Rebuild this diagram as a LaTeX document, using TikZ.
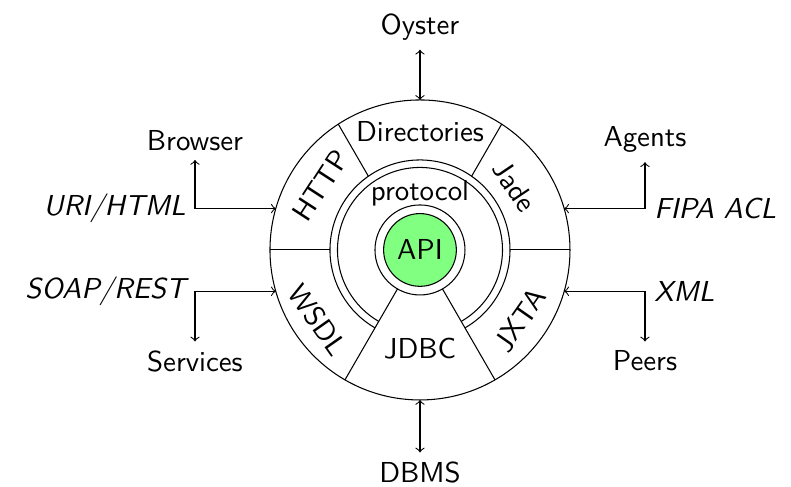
\documentclass[tikz,border=0pt]{standalone}
\usetikzlibrary{positioning}
\newcommand{\elf}{\fontsize{10.95}{13}\selectfont}
\tikzset{
  ext/.style={font=\sffamily\elf},
  proto/.style={font=\sffamily\slshape\elf},
  seg/.style={font=\sffamily\elf},
  api/.style={circle, draw=black, fill=green!50, minimum size=0.97cm, inner sep=0pt, font=\sffamily\elf},
  line/.style={draw, thin, <->},
}
\begin{document}
\begin{tikzpicture}
    \useasboundingbox (-5.6,-3.16) rectangle (4.947,3.333);

    % rings
    \draw (0,0) circle (2);
    \draw (-60:1.2) arc[start angle=-60, end angle=240, radius=1.2];
    \draw (-60:1.1) arc[start angle=-60, end angle=240, radius=1.1];
    \draw (0,0) circle (0.6);
    \node[api] (api) at (0,0) {API};

    % segments
    \draw (125:1.2) -- (123:2);
    \draw (55:1.2) -- (57:2);
    \draw (180:1.2) -- (180:2);
    \draw (0:1.2) -- (0:2);
    \draw (240:0.6) -- (240:2);
    \draw (300:0.6) -- (300:2);

    \node[seg] (prot) at (0,0.76) {protocol};
    \node[seg] (dir) at (0,1.58) {Directories};
    \node[seg,rotate=57] (http) at (147:1.58) {HTTP};
    \node[seg,rotate=-56] (jade) at (34:1.52) {Jade};
    \node[seg,rotate=-55] (wsdl) at (214.5:1.65) {WSDL};
    \node[seg,rotate=55] (jxta) at (-35:1.63) {JXTA};
    \node[seg] (jdbc) at (0,-1.31) {JDBC};

    % outside
    \coordinate (httpin) at (164:2);
    \coordinate (wsdlin) at (196:2);
    \coordinate (jadein) at (16:2);
    \coordinate (jxtain) at (-16:2);
    \coordinate (dirin) at (90:2);
    \coordinate (jdbcin) at (-90:2);
    \coordinate (urik) at (-3,0.55);
    \coordinate (soapk) at (-3,-0.55);
    \coordinate (fipak) at (3,0.55);
    \coordinate (xmlk) at (3,-0.55);

    \node[ext,anchor=south] (oyster) at (0,2.67) {Oyster};
    \node[ext,anchor=north] (dbms) at (0,-2.7) {DBMS};
    \node[ext,anchor=south] (browser) at (-3,1.2) {Browser};
    \node[ext,anchor=north] (services) at (-3,-1.22) {Services};
    \node[ext,anchor=south] (agents) at (3,1.17) {Agents};
    \node[ext,anchor=north] (peers) at (3,-1.22) {Peers};

    \node[proto,left=0pt of urik] (uri) {URI/HTML};
    \node[proto,left=0pt of soapk] (soap) {SOAP/REST};
    \node[proto,right=0pt of fipak] (fipa) {FIPA ACL};
    \node[proto,right=0pt of xmlk] (xml) {XML};

    \begin{scope} [every path/.style=line]
      \path (oyster) -- (dirin);
      \path (dbms) -- (jdbcin);
      \path (browser) |- (httpin);
      \path (services) |- (wsdlin);
      \path (agents) |- (jadein);
      \path (peers) |- (jxtain);
    \end{scope}

\end{tikzpicture}
\end{document}
